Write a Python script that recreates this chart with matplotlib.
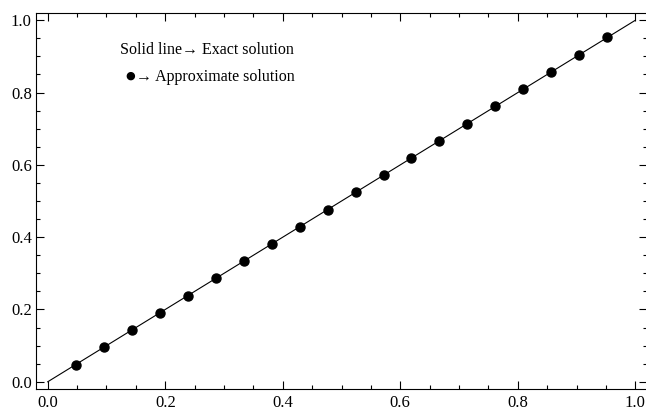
import numpy as np
import matplotlib
matplotlib.use('Agg')
from matplotlib import pyplot as plt
from matplotlib.ticker import MultipleLocator, FormatStrFormatter

plt.rcParams['font.family'] = ['Liberation Serif', 'DejaVu Sans']

# exact solution y = x, approximate solution at nodes k/21
exact_x = [0.0, 1.0]
exact_y = [0.0, 1.0]
approx_x = [k / 21 for k in range(1, 21)]
approx_y = [k / 21 for k in range(1, 21)]

fig = plt.figure(figsize=(6.46, 4.12), dpi=100)
ax = fig.add_axes([0.0557, 0.0558, 0.946, 0.9126])

ax.plot(exact_x, exact_y, color='black', lw=0.8)
ax.plot(approx_x, approx_y, 'o', color='black', ms=6.5)

ax.set_xlim(-0.02, 1.02)
ax.set_ylim(-0.02, 1.02)

ax.xaxis.set_major_locator(MultipleLocator(0.2))
ax.xaxis.set_minor_locator(MultipleLocator(0.05))
ax.yaxis.set_major_locator(MultipleLocator(0.2))
ax.yaxis.set_minor_locator(MultipleLocator(0.05))
ax.xaxis.set_major_formatter(FormatStrFormatter('%.1f'))
ax.yaxis.set_major_formatter(FormatStrFormatter('%.1f'))

ax.tick_params(which='both', direction='in', top=True, right=True, width=0.8, labelsize=12)
ax.tick_params(which='major', length=5.5)
ax.tick_params(which='minor', length=3)
ax.tick_params(axis='x', pad=4.5)
ax.tick_params(axis='y', pad=3)
for s in ax.spines.values():
    s.set_linewidth(0.8)

ax.text(0.123, 0.917, 'Solid line\u2192 Exact solution', fontsize=11.5, va='center')
ax.text(0.140, 0.846, '\u25cf', fontsize=8, va='center', ha='center', family='DejaVu Sans')
ax.text(0.150, 0.843, '\u2192 Approximate solution', fontsize=11.5, va='center')

plt.savefig('out.png')
